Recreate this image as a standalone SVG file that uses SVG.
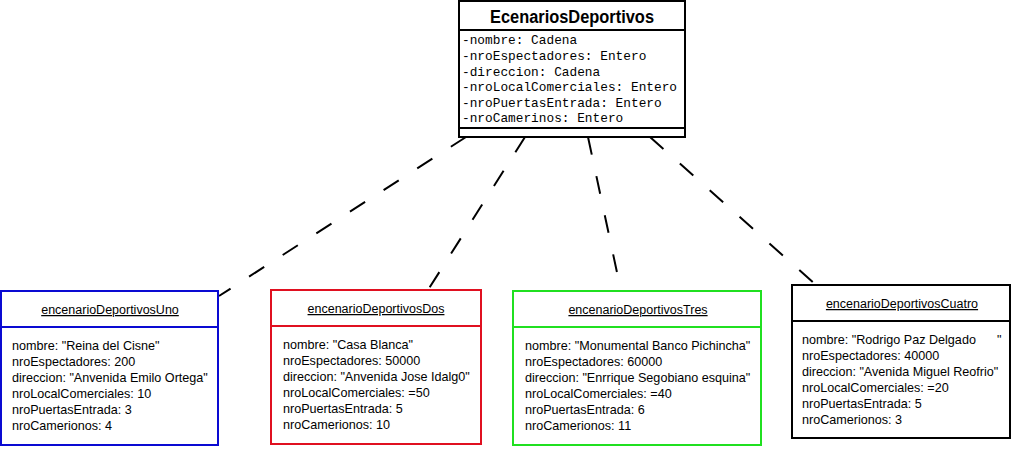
<svg xmlns="http://www.w3.org/2000/svg" width="1014" height="449" viewBox="0 0 1014 449">
<style>
.bg{fill:#ffffff}
.box{fill:#ffffff;stroke-width:2}
.sep{stroke-width:2}
.cls{font-family:"Liberation Sans",Arial,sans-serif;font-weight:bold;font-size:18px;fill:#000}
.attr{font-family:"Liberation Mono","Courier New",monospace;font-size:12.8px;fill:#000}
.otitle{font-family:"Liberation Sans",Arial,sans-serif;font-size:12.5px;fill:#000;text-decoration:underline}
.obody{font-family:"Liberation Sans",Arial,sans-serif;font-size:12.6px;fill:#000}
.conn{stroke:#000;stroke-width:2;stroke-dasharray:18 22;fill:none}
</style>
<rect class="bg" x="0" y="0" width="1014" height="449"/>
<g id="connectors">
<line class="conn" x1="466" y1="137" x2="219" y2="296"/>
<line class="conn" x1="525" y1="137" x2="428" y2="290"/>
<line class="conn" x1="588" y1="137" x2="621" y2="291"/>
<line class="conn" x1="650" y1="137" x2="816" y2="285"/>
</g>
<g id="EcenariosDeportivos">
<rect class="box" x="459" y="1" width="226" height="136" stroke="#000"/>
<line class="sep" x1="459" y1="30" x2="685" y2="30" stroke="#000"/>
<line class="sep" x1="459" y1="128" x2="685" y2="128" stroke="#000"/>
<text class="cls" x="572" y="23" text-anchor="middle" textLength="164" lengthAdjust="spacingAndGlyphs">EcenariosDeportivos</text>
<text class="attr" x="462" y="44">-nombre: Cadena</text>
<text class="attr" x="462" y="60">-nroEspectadores: Entero</text>
<text class="attr" x="462" y="75.5">-direccion: Cadena</text>
<text class="attr" x="462" y="91">-nroLocalComerciales: Entero</text>
<text class="attr" x="462" y="106.5">-nroPuertasEntrada: Entero</text>
<text class="attr" x="462" y="122">-nroCamerinos: Entero</text>
</g>
<g id="encenarioDeportivosUno">
<rect class="box" x="1" y="291" width="217" height="154" stroke="#0a0ad2"/>
<line class="sep" x1="1" y1="327" x2="218" y2="327" stroke="#0a0ad2"/>
<text class="otitle" x="110" y="314" text-anchor="middle">encenarioDeportivosUno</text>
<text class="obody" x="12" y="350">nombre: "Reina del Cisne"</text>
<text class="obody" x="12" y="366">nroEspectadores: 200</text>
<text class="obody" x="12" y="382">direccion: "Anvenida Emilo Ortega"</text>
<text class="obody" x="12" y="398">nroLocalComerciales: 10</text>
<text class="obody" x="12" y="414">nroPuertasEntrada: 3</text>
<text class="obody" x="12" y="430">nroCamerionos: 4</text>
</g>
<g id="encenarioDeportivosDos">
<rect class="box" x="271" y="290" width="210" height="154" stroke="#e01020"/>
<line class="sep" x1="271" y1="326" x2="481" y2="326" stroke="#e01020"/>
<text class="otitle" x="376" y="313" text-anchor="middle">encenarioDeportivosDos</text>
<text class="obody" x="283" y="349">nombre: "Casa Blanca"</text>
<text class="obody" x="283" y="365">nroEspectadores: 50000</text>
<text class="obody" x="283" y="381">direccion: "Anvenida Jose Idalg0"</text>
<text class="obody" x="283" y="397">nroLocalComerciales: =50</text>
<text class="obody" x="283" y="413">nroPuertasEntrada: 5</text>
<text class="obody" x="283" y="429">nroCamerionos: 10</text>
</g>
<g id="encenarioDeportivosTres">
<rect class="box" x="513" y="291" width="248" height="154" stroke="#20e020"/>
<line class="sep" x1="513" y1="327" x2="761" y2="327" stroke="#20e020"/>
<text class="otitle" x="638" y="314" text-anchor="middle">encenarioDeportivosTres</text>
<text class="obody" x="525" y="350">nombre: "Monumental Banco Pichincha"</text>
<text class="obody" x="525" y="366">nroEspectadores: 60000</text>
<text class="obody" x="525" y="382">direccion: "Enrrique Segobiano esquina"</text>
<text class="obody" x="525" y="398">nroLocalComerciales: =40</text>
<text class="obody" x="525" y="414">nroPuertasEntrada: 6</text>
<text class="obody" x="525" y="430">nroCamerionos: 11</text>
</g>
<g id="encenarioDeportivosCuatro">
<rect class="box" x="792" y="285" width="218" height="153" stroke="#000"/>
<line class="sep" x1="792" y1="321" x2="1010" y2="321" stroke="#000"/>
<text class="otitle" x="902" y="308" text-anchor="middle">encenarioDeportivosCuatro</text>
<text class="obody" x="802" y="344" xml:space="preserve">nombre: "Rodrigo Paz Delgado      "</text>
<text class="obody" x="802" y="360">nroEspectadores: 40000</text>
<text class="obody" x="802" y="376">direccion: "Avenida Miguel Reofrio"</text>
<text class="obody" x="802" y="392">nroLocalComerciales: =20</text>
<text class="obody" x="802" y="408">nroPuertasEntrada: 5</text>
<text class="obody" x="802" y="424">nroCamerionos: 3</text>
</g>
</svg>
